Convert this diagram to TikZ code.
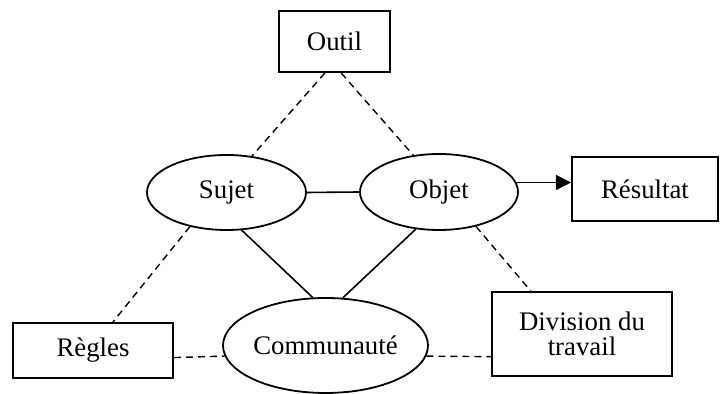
\documentclass[tikz,border=0pt]{standalone}
\usepackage{fontspec}
\setmainfont{Liberation Serif}
\usetikzlibrary{shapes,arrows.meta,positioning,calc}

\begin{document}
\begin{tikzpicture}[x=0.5pt, y=-0.5pt,
  every node/.style={font=\fontsize{13.4}{15}\selectfont},
  box/.style={rectangle, draw, line width=1pt, inner sep=0pt},
  oval/.style={ellipse, draw, line width=0.9pt, inner sep=0pt},
  link/.style={line width=0.8pt},
  dashlink/.style={line width=0.7pt, dash pattern=on 3.5pt off 2.5pt}]
\useasboundingbox (0,0) rectangle (720,394);
% top and sides
\node[box, minimum width=55.5pt, minimum height=30.5pt] (outil) at (334.5,41.5) {Outil};
\node[box, minimum width=73pt, minimum height=32pt] (resultat) at (645,189) {Résultat};
\node[box, minimum width=80pt, minimum height=27.5pt] (regles) at (93,350.5) {Règles};
\node[box, minimum width=90pt, minimum height=42pt, align=center, font=\fontsize{13.4}{12.5}\selectfont] (division) at (582,334) {Division du\\travail};
% ellipses
\node[oval, minimum width=79.5pt, minimum height=37.5pt] (sujet) at (226.5,192.5) {Sujet};
\node[oval, minimum width=79pt, minimum height=38pt] (objet) at (439,192) {Objet};
\node[oval, minimum width=102.5pt, minimum height=47.5pt] (communaute) at (325.5,345.5) {Communauté};
% solid links
\draw[link] (sujet.east) -- (objet.west);
\draw[link] (sujet.-68) -- (communaute.105);
\draw[link] (objet.-122) -- (communaute.70);
\draw[link, -{Triangle[length=7.5pt, width=7.5pt]}] (objet.7) -- (objet.7 -| resultat.west);
% dashed links
\draw[dashlink] (outil.-107) -- (sujet.55);
\draw[dashlink] (outil.-78) -- (objet.125);
\draw[dashlink] (sujet.-137) -- (regles.55);
\draw[dashlink] (objet.-43) -- (division.140);
\draw[dashlink] (regles.-5) -- (communaute.186);
\draw[dashlink] (communaute.-6) -- (division.194);
\end{tikzpicture}
\end{document}
